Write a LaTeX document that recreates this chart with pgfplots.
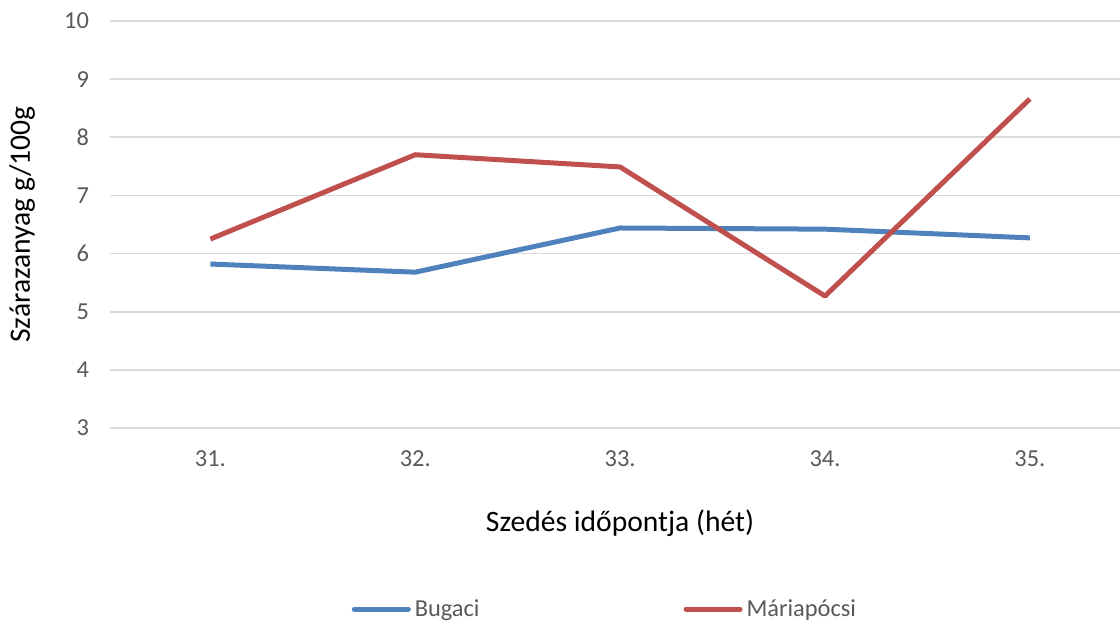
\documentclass[border=0pt]{standalone}
\usepackage{fontspec}
\setmainfont{Carlito}
\usepackage{pgfplots}
\pgfplotsset{compat=1.18}
\definecolor{bl}{HTML}{4F81BD}
\definecolor{rd}{HTML}{C0504D}
\definecolor{gr}{HTML}{D9D9D9}
\definecolor{tx}{HTML}{595959}
\begin{document}
\begin{tikzpicture}
\useasboundingbox (0,0) rectangle (560pt,310.5pt);
\begin{axis}[
  at={(55pt,96.5pt)}, anchor=south west,
  scale only axis, width=505pt, height=203.5pt,
  xmin=30.51, xmax=35.44, ymin=3, ymax=10,
  xtick={31,32,33,34,35}, xticklabels={31.,32.,33.,34.,35.},
  ytick={3,4,5,6,7,8,9,10},
  ymajorgrids, major grid style={gr, line width=0.9pt},
  axis line style={draw=none},
  tick style={draw=none},
  /pgf/number format/assume math mode=true,
  ticklabel style={font=\fontsize{12.2}{14}\selectfont, text=tx},
  yticklabel style={xshift=-7pt},
  xticklabel style={yshift=-8pt},
  xlabel={Szedés időpontja (hét)},
  ylabel={Szárazanyag g/100g},
  label style={font=\fontsize{14.8}{17}\selectfont},
  xlabel style={at={(axis description cs:0.505,-0.233)}, anchor=center},
  ylabel style={at={(axis description cs:-0.087,0.5)}, anchor=center, rotate=0},
  legend columns=2,
  legend style={at={(axis description cs:0.491,-0.445)}, anchor=center, draw=none,
    font=\fontsize{12.2}{14}\selectfont, text=tx,
    /tikz/every even column/.append style={column sep=100pt},
    inner sep=0pt},
  legend image code/.code={\draw[#1, line cap=round] (0pt,0pt) -- (27pt,0pt);},
  every axis plot/.append style={line width=2.5pt, line join=round},
]
\addplot[bl] coordinates {(31,5.82) (32,5.68) (33,6.44) (34,6.42) (35,6.27)};
\addlegendentry{Bugaci}
\addplot[rd] coordinates {(31,6.25) (32,7.70) (33,7.49) (34,5.27) (35,8.66)};
\addlegendentry{Máriapócsi}
\end{axis}
\end{tikzpicture}
\end{document}
